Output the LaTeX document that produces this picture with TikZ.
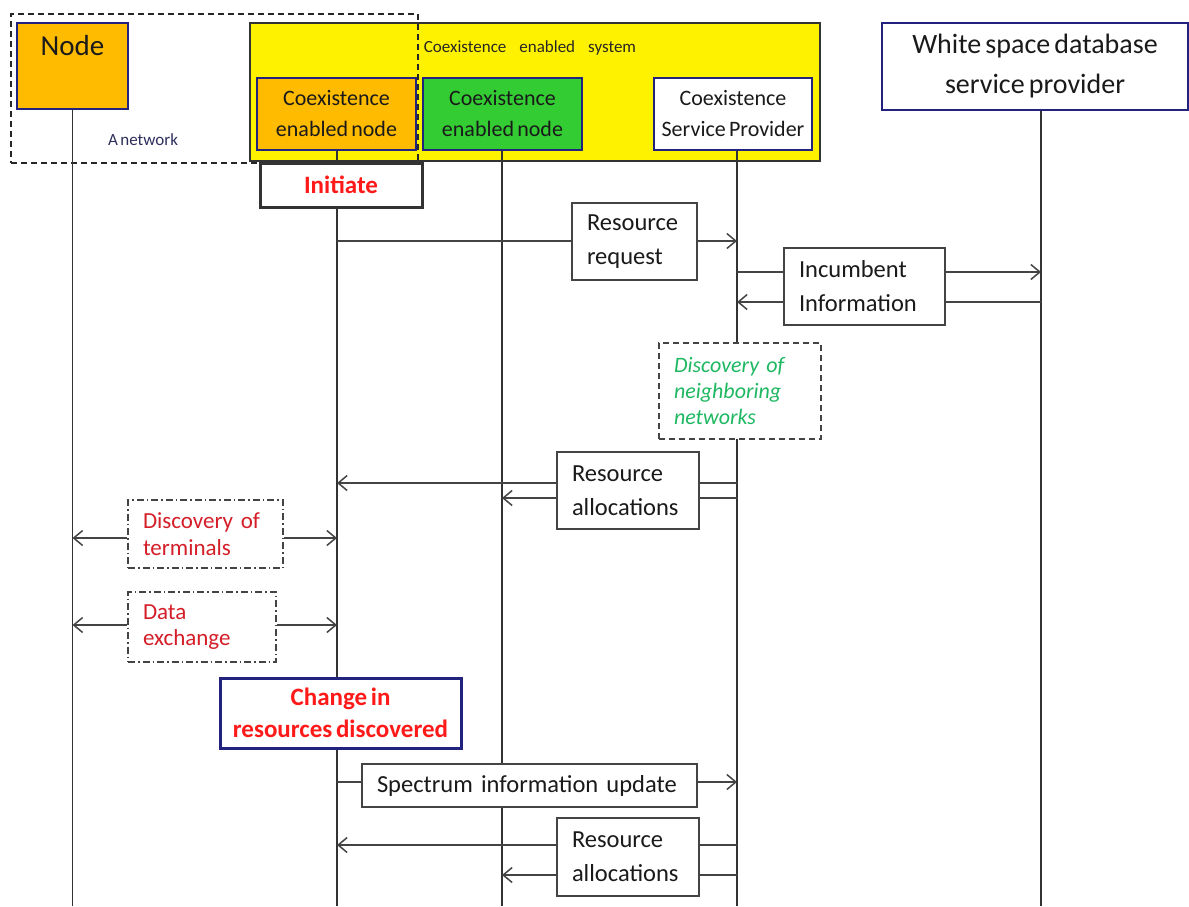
\documentclass[tikz,border=0pt]{standalone}
\usepackage{fontspec}
\setmainfont{Carlito}[WordSpace=0.65]
\usetikzlibrary{arrows.meta}
\definecolor{navyline}{HTML}{22227F}
\definecolor{orangeF}{HTML}{FFBB00}
\definecolor{greenF}{HTML}{33CC33}
\definecolor{lifec}{HTML}{333333}
\definecolor{msgc}{HTML}{444444}
\definecolor{hotred}{HTML}{FF1A1A}
\definecolor{darkred}{HTML}{D41E28}
\definecolor{discgreen}{HTML}{1FB862}
\definecolor{txt}{HTML}{1A1A1A}
\definecolor{smalltxt}{HTML}{2E2E5C}
\begin{document}
\begin{tikzpicture}[x=1pt,y=-1pt,
  life/.style={draw=lifec, line width=1.7pt},
  msg/.style={draw=msgc, line width=1.5pt,
    -{Straight Barb[length=9pt,width=15pt,line width=1.5pt]}},
  topbox/.style={draw=navyline, line width=1.3pt, inner sep=0pt, align=center,
    text=txt, font=\fontsize{22}{31}\selectfont},
  msgbox/.style={draw=msgc, line width=1.4pt, fill=white, inner ysep=0pt,
    inner xsep=15pt, align=left, text=txt, font=\fontsize{24.5}{34}\selectfont},
  notebox/.style={draw=msgc, line width=1.2pt, fill=white, inner ysep=0pt,
    inner xsep=15pt, align=left, font=\fontsize{23}{26.5}\selectfont},
  eventbox/.style={line width=3pt, fill=white, inner sep=0pt, align=center,
    text=hotred, font=\bfseries\fontsize{25}{32}\selectfont}
]
\useasboundingbox (0,0) rectangle (1189,906);
\coordinate (bot) at (0,906);

% ---- participants ----
\node[draw=lifec, fill=yellow, line width=1.3pt, inner sep=0pt,
      minimum width=570, minimum height=138] (sys) at (535,92) {};
\node[font=\fontsize{17}{20}\selectfont, text=black!85] (syslbl) at (530,48)
  {Coexistence\hspace{13pt}enabled\hspace{13pt}system};
\node[draw=black!85, line width=1.3pt, dash pattern=on 6pt off 4pt, inner sep=0pt,
      minimum width=407, minimum height=149] (net) at (214.5,88.5) {};
\node[font=\fontsize{17}{20}\selectfont, text=smalltxt] (netlbl) at (143,140) {A network};

\node[topbox, fill=orangeF, minimum width=111, minimum height=86] (nodeb) at (72.5,66) {};
\node[font=\fontsize{29}{34}\selectfont, text=txt] (nodelbl) at (72.5,46) {Node};
\node[topbox, fill=orangeF, minimum width=159, minimum height=72] (cenO) at (336.5,114)
  {Coexistence\\enabled node};
\node[topbox, fill=greenF, minimum width=159, minimum height=72] (cenG) at (502.5,114)
  {Coexistence\\enabled node};
\node[topbox, fill=white, minimum width=158, minimum height=72] (csp) at (733,114)
  {Coexistence\\Service Provider};
\node[topbox, fill=white, minimum width=306, minimum height=87,
      font=\fontsize{28}{40}\selectfont] (wsdb) at (1035,66.5)
  {White space database\\service provider};

% ---- lifelines ----
\coordinate (Lnode) at (nodeb.south);
\coordinate (LcenO) at ([xshift=0.5pt]cenO.south);
\coordinate (LcenG) at ([xshift=-0.5pt]cenG.south);
\coordinate (Lcsp)  at ([xshift=4pt]csp.south);
\coordinate (Lwsdb) at ([xshift=6pt]wsdb.south);
\foreach \l in {Lnode,LcenO,LcenG,Lcsp,Lwsdb}
  \draw[life] (\l) -- (\l |- bot);

% ---- message levels ----
\coordinate (y1) at (0,241);
\coordinate (y2) at (0,272);
\coordinate (y3) at (0,302);
\coordinate (y4) at (0,483);
\coordinate (y5) at (0,498);
\coordinate (y6) at (0,538);
\coordinate (y7) at (0,625);
\coordinate (y8) at (0,782);
\coordinate (y9) at (0,845);
\coordinate (y10) at (0,875);

% ---- messages ----
\draw[msg] (LcenO |- y1) -- (Lcsp |- y1);
\draw[msg] (Lcsp |- y2) -- (Lwsdb |- y2);
\draw[msg] (Lwsdb |- y3) -- (Lcsp |- y3);
\draw[msg] (Lcsp |- y4) -- (LcenO |- y4);
\draw[msg] (Lcsp |- y5) -- (LcenG |- y5);
\draw[msg] (LcenO |- y8) -- (Lcsp |- y8);
\draw[msg] (Lcsp |- y9) -- (LcenO |- y9);
\draw[msg] (Lcsp |- y10) -- (LcenG |- y10);

% ---- events ----
\node[eventbox, draw=lifec, minimum width=162, minimum height=44] (init) at (341,185) {Initiate};
\node[eventbox, draw=navyline, minimum width=241, minimum height=70] (chg) at (340.5,713)
  {Change in\\resources discovered};

% ---- message labels ----
\node[msgbox, text width=95, minimum height=77] (rreq) at (634.5,241.5) {Resource\\request};
\node[msgbox, text width=131, minimum height=77] (inc) at (864.5,286.5) {Incumbent\\Information};
\node[msgbox, text width=112, minimum height=77] (ralloc1) at (628,490.5) {Resource\\allocations};
\node[msgbox, text width=305, minimum height=43] (spec) at (529.5,785.5) {Spectrum information update};
\node[msgbox, text width=112, minimum height=78] (ralloc2) at (628,857) {Resource\\allocations};

% ---- local procedures ----
\node[notebox, dash pattern=on 6pt off 4pt, text=discgreen, text width=132,
      minimum height=96, font=\itshape\fontsize{22}{26}\selectfont] (neigh) at (740,391)
  {Discovery of\\neighboring\\networks};
\node[notebox, dash pattern=on 7pt off 3pt on 1.5pt off 3pt, text=darkred, text width=125,
      minimum height=68] (term) at (205.5,534) {Discovery of\\terminals};
\node[notebox, dash pattern=on 7pt off 3pt on 1.5pt off 3pt, text=darkred, text width=118,
      minimum height=70] (dex) at (202,627) {Data\\exchange};

\draw[msg] (term.west |- y6) -- (Lnode |- y6);
\draw[msg] (term.east |- y6) -- (LcenO |- y6);
\draw[msg] (dex.west |- y7) -- (Lnode |- y7);
\draw[msg] (dex.east |- y7) -- (LcenO |- y7);
\end{tikzpicture}
\end{document}
